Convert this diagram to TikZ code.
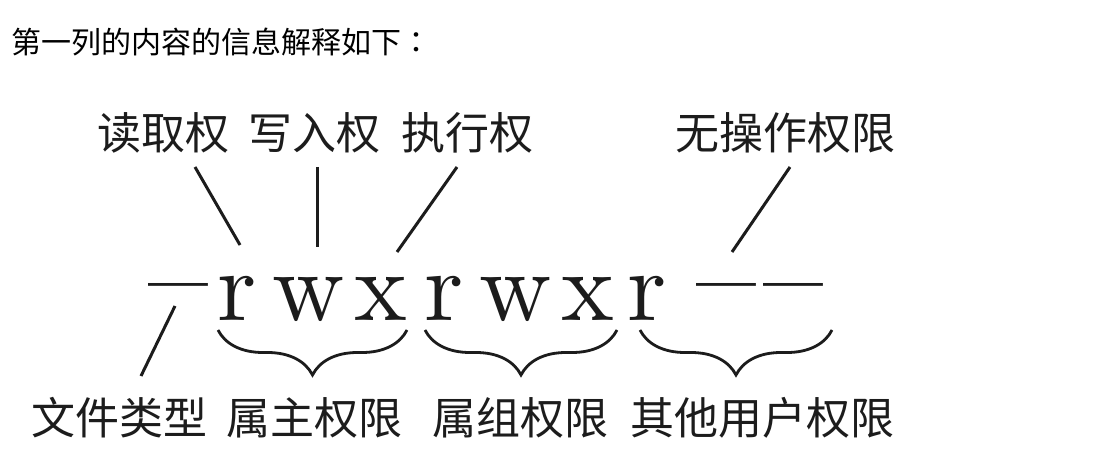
\documentclass[tikz,border=0pt]{standalone}
\usepackage{fontspec}
\newfontfamily\cjk{Noto Sans CJK SC}
\newfontfamily\cjkjp{Noto Sans CJK JP}
\newfontfamily\permfont[Extension=.otf]{lmroman10-regular}
\usetikzlibrary{calc,decorations.pathreplacing}
\definecolor{ink}{HTML}{1C1C1C}
\newcommand{\permdash}{\raisebox{1pt}{\scalebox{1.2}[1.3]{–}}}
\begin{document}
\begin{tikzpicture}[x=1pt,y=-1pt,
  heading/.style={font=\cjk\fontsize{30}{32}\selectfont, text=black, inner sep=0, anchor=west},
  lbl/.style={font=\cjk\fontsize{44}{48}\selectfont, text=ink, inner sep=0},
  perm/.style={font=\permfont\fontsize{100}{110}\selectfont, text=ink, inner sep=0, anchor=base},
  conn/.style={draw=ink, line width=3pt},
  grp/.style={draw=ink, line width=2.8pt, decorate, decoration={brace,mirror,amplitude=45pt}}]
\useasboundingbox (0,0) rectangle (1114,473);
\fill[white] (0,0) rectangle (1114,473);

% heading line
\node[heading] (title) at (11,42) {第一列的内容的信息解释如下{\cjkjp ：}};

% permission string
\node[perm] (d1) at (178,320) {\permdash};
\node[perm] (r1) at (237,320) {r};
\node[perm] (w1) at (309,320) {w};
\node[perm] (x1) at (381,320) {x};
\node[perm] (r2) at (444,320) {r};
\node[perm] (w2) at (516,320) {w};
\node[perm] (x2) at (588,320) {x};
\node[perm] (r3) at (647,320) {r};
\node[perm] (d2) at (726,320) {\permdash};
\node[perm] (d3) at (793,320) {\permdash};

% labels above
\node[lbl] (read)  at (163,133) {读取权};
\node[lbl] (write) at (314,133) {写入权};
\node[lbl] (exec)  at (467,133) {执行权};
\node[lbl] (none)  at (785,133) {无操作权限};

% labels below
\node[lbl] (ftype) at (119,418) {文件类型};
\node[lbl] (owner) at (314,418) {属主权限};
\node[lbl] (group) at (520,418) {属组权限};
\node[lbl] (other) at (762,418) {其他用户权限};

% pointer lines
\draw[conn] ($(read.center)+(32,34)$)  -- ($(r1.base)+(3,-75)$);
\draw[conn] ($(write.center)+(3,34)$)  -- ($(w1.base)+(8,-73)$);
\draw[conn] ($(exec.center)+(-10,34)$) -- ($(x1.base)+(16,-68)$);
\draw[conn] ($(none.center)+(5,34)$)   -- ($(d2.base)+(6,-68)$);
\draw[conn] ($(d1.base)+(-3,-14)$)     -- ($(ftype.center)+(22,-42)$);

% braces grouping the triplets
\draw[grp] ($(r1.base)+(-19,10)$) -- ($(x1.base)+(26,10)$);
\draw[grp] ($(r2.base)+(-19,10)$) -- ($(x2.base)+(29,10)$);
\draw[grp] ($(r3.base)+(-7,10)$)  -- ($(d3.base)+(39,10)$);
\end{tikzpicture}
\end{document}
